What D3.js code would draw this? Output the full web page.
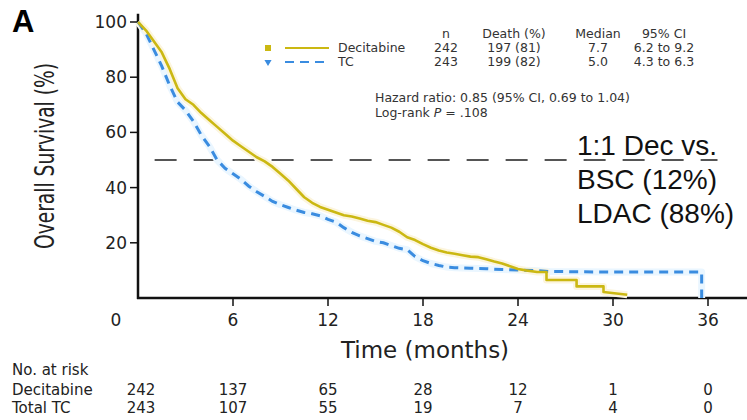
<!DOCTYPE html>
<meta charset="utf-8">
<head>
    <title>Overall survival, Decitabine vs TC</title>
    <script src="https://d3js.org/d3.v7.min.js"></script>
    <style>
        body { margin: 0; background: #fff; }
        svg { display: block; }
    </style>
</head>

<body>
    <div id="svg-container"></div>
</body>

<script>

const width = 747;
const height = 420;

// Kaplan-Meier curves (months, % alive)
const decMonths = [0, 0.5, 1, 1.5, 2, 2.5, 3, 3.5, 4, 4.5, 5, 5.5, 6, 6.5, 7, 7.5, 8, 8.5, 9, 9.5,
                   10, 10.5, 11, 11.5, 12, 12.5, 13, 13.5, 14, 14.5, 15, 15.5, 16, 16.5, 17, 17.5,
                   18, 18.5, 19, 19.5, 20, 20.5, 21, 21.5, 22, 22.5, 23, 23.5, 24, 24.5, 25.2, 25.8,
                   25.8, 27.7, 27.7, 29.4, 29.4, 30.9];
const decSurv   = [100, 97, 93, 89, 83, 76, 72, 70, 67, 64.5, 62, 59.5, 57, 55, 53, 51, 49.5, 47.5, 45, 42.5,
                   39.5, 36.5, 34.5, 33, 32, 31, 30, 29.5, 28.8, 28, 27.5, 26.5, 25.5, 24, 22, 21,
                   19.5, 18.2, 17.2, 16.5, 16, 15.5, 15, 14.8, 14, 13.2, 12.5, 11.5, 10.5, 10, 9.4, 9.4,
                   6.5, 6.5, 4.2, 4.2, 2.2, 1.2];

const tcMonths = [0, 0.5, 1, 1.5, 2, 2.5, 3, 3.5, 4, 4.5, 5, 5.5, 6, 6.5, 7, 7.5, 8, 8.5, 9, 9.5,
                  10, 10.5, 11, 11.5, 12, 12.5, 13, 13.5, 14, 14.5, 15, 15.5, 16, 16.5, 17, 17.5,
                  18, 18.5, 19, 19.5, 20, 21, 22, 23, 24, 25, 26, 28, 30, 35.6, 35.6];
const tcSurv   = [100, 96, 90, 84, 77, 71, 68, 64, 59, 55, 50, 47, 45, 43, 40.5, 38.5, 36.8, 35, 33.8, 32.8,
                  31.8, 31, 30.5, 29.8, 28.5, 27.5, 25.5, 23.8, 22.5, 21.5, 20.5, 20, 19, 18, 17.5, 15,
                  13.5, 12.5, 11.8, 11.2, 11, 10.8, 10.6, 10.3, 10.1, 10, 9.6, 9.5, 9.4, 9.4, 0];

const xTicks = [0, 6, 12, 18, 24, 30, 36];
const yTicks = [20, 40, 60, 80, 100];

const riskTimes = [0, 6, 12, 18, 24, 30, 36];
const riskDec = [242, 137, 65, 28, 12, 1, 0];
const riskTC  = [243, 107, 55, 19, 7, 4, 0];

const tableHeader = ["n", "Death (%)", "Median", "95% CI"];
const tableDec = ["242", "197 (81)", "7.7", "6.2 to 9.2"];
const tableTC  = ["243", "199 (82)", "5.0", "4.3 to 6.3"];

const noteLines = ["1:1 Dec vs.", "BSC (12%)", "LDAC (88%)"];

const yellow = "#cbb812";
const blue = "#3a8ce0";

const svg = d3.select("#svg-container")
              .append("svg")
                .attr("width", width)
                .attr("height", height);

const x = d3.scaleLinear().domain([0, 36]).range([138, 708]);
const y = d3.scaleLinear().domain([0, 100]).range([298, 22]);

drawAxes();
drawCurves();
drawLegend();
drawRiskTable();

function drawAxes() {
    // panel letter
    svg.append("text")
        .attr("x", 12).attr("y", 32)
        .style("font", "bold 31px 'Liberation Sans', Arial, sans-serif")
        .text("A");

    // y axis
    svg.append("line")
        .attr("x1", x(0)).attr("x2", x(0))
        .attr("y1", y(103)).attr("y2", y(0) + 1)
        .attr("stroke", "#111").attr("stroke-width", 2.5);

    const yg = svg.append("g").attr("class", "y-ticks");
    yg.selectAll("line")
        .data(yTicks).enter()
        .append("line")
            .attr("x1", x(0) - 8).attr("x2", x(0))
            .attr("y1", d => y(d)).attr("y2", d => y(d))
            .attr("stroke", "#111").attr("stroke-width", 1.5);
    yg.selectAll("text")
        .data(yTicks).enter()
        .append("text")
            .attr("x", x(0) - 11)
            .attr("y", d => y(d) + 6)
            .attr("text-anchor", "end")
            .style("font", "17px 'DejaVu Sans', sans-serif")
            .attr("fill", "#222")
            .text(d => d);

    // x axis
    svg.append("line")
        .attr("x1", x(0) - 1).attr("x2", width)
        .attr("y1", y(0)).attr("y2", y(0))
        .attr("stroke", "#111").attr("stroke-width", 2.5);

    const xg = svg.append("g").attr("class", "x-ticks");
    xg.selectAll("line")
        .data(xTicks.filter(d => d > 0)).enter()
        .append("line")
            .attr("x1", d => x(d)).attr("x2", d => x(d))
            .attr("y1", y(0)).attr("y2", y(0) + 8)
            .attr("stroke", "#111").attr("stroke-width", 1.5);
    xg.selectAll("text")
        .data(xTicks).enter()
        .append("text")
            .attr("x", d => d === 0 ? x(d) - 22 : x(d))
            .attr("y", y(0) + 28)
            .attr("text-anchor", "middle")
            .style("font", "17px 'DejaVu Sans', sans-serif")
            .attr("fill", "#222")
            .text(d => d);

    svg.append("text")
        .attr("x", 425).attr("y", 358)
        .attr("text-anchor", "middle")
        .style("font", "23px 'DejaVu Sans', sans-serif")
        .attr("fill", "#222")
        .text("Time (months)");

    // condensed look: squeeze the title to the length it has in the figure
    svg.append("text")
        .attr("transform", "translate(54,156) rotate(-90)")
        .attr("text-anchor", "middle")
        .attr("textLength", 186)
        .attr("lengthAdjust", "spacingAndGlyphs")
        .style("font", "27px 'DejaVu Sans Condensed', 'DejaVu Sans', sans-serif")
        .attr("fill", "#222")
        .text("Overall Survival (%)");

    // median reference line
    svg.append("line")
        .attr("x1", x(1.05)).attr("x2", x(36.6))
        .attr("y1", y(50)).attr("y2", y(50))
        .attr("stroke", "#555").attr("stroke-width", 2)
        .attr("stroke-dasharray", "22,17");
}

function drawCurves() {
    const line = d3.line()
                   .x(d => x(d[0]))
                   .y(d => y(d[1]));

    const dec = d3.zip(decMonths, decSurv);
    const tc = d3.zip(tcMonths, tcSurv);

    // soft halo from the scanned original
    svg.append("path").attr("d", line(tc))
        .attr("fill", "none").attr("stroke", "#eaf6ff").attr("stroke-width", 7)
        .attr("stroke-linejoin", "round");
    svg.append("path").attr("d", line(dec))
        .attr("fill", "none").attr("stroke", "#fcf5de").attr("stroke-width", 7)
        .attr("stroke-linejoin", "round");

    svg.append("path").attr("d", line(tc))
        .attr("fill", "none").attr("stroke", blue).attr("stroke-width", 3)
        .attr("stroke-dasharray", "9,6");
    svg.append("path").attr("d", line(dec))
        .attr("fill", "none").attr("stroke", yellow).attr("stroke-width", 2.6)
        .attr("stroke-linejoin", "round");
}

function drawLegend() {
    const rowY = [38, 52, 66];
    const colX = [446, 514, 598, 664];
    const font = "12.5px 'DejaVu Sans', sans-serif";

    const rows = [tableHeader, tableDec, tableTC];
    rows.forEach(function(row, i) {
        svg.append("g")
            .selectAll("text")
            .data(row).enter()
            .append("text")
                .attr("x", (d, j) => colX[j])
                .attr("y", rowY[i])
                .attr("text-anchor", "middle")
                .style("font", font)
                .attr("fill", "#333")
                .text(d => d);
    });

    [["Decitabine", yellow, null], ["TC", blue, "9,6"]].forEach(function(s, i) {
        const cy = rowY[i + 1] - 4;
        svg.append("line")
            .attr("x1", 285).attr("x2", 329)
            .attr("y1", cy).attr("y2", cy)
            .attr("stroke", s[1]).attr("stroke-width", 2)
            .attr("stroke-dasharray", s[2]);
        if (i === 0) {
            svg.append("rect")
                .attr("x", 265).attr("y", cy - 3)
                .attr("width", 6).attr("height", 6)
                .attr("fill", s[1]);
        } else {
            svg.append("path")
                .attr("d", d3.symbol().type(d3.symbolTriangle).size(22)())
                .attr("transform", `translate(268,${cy}) rotate(180)`)
                .attr("fill", s[1]);
        }
        svg.append("text")
            .attr("x", 338).attr("y", rowY[i + 1])
            .style("font", font)
            .attr("fill", "#333")
            .text(s[0]);
    });

    svg.append("text")
        .attr("x", 375).attr("y", 102)
        .style("font", "12.5px 'DejaVu Sans', sans-serif")
        .attr("fill", "#333")
        .text("Hazard ratio: 0.85 (95% CI, 0.69 to 1.04)");

    const lr = svg.append("text")
        .attr("x", 375).attr("y", 117)
        .style("font", "12.5px 'DejaVu Sans', sans-serif")
        .attr("fill", "#333");
    lr.append("tspan").text("Log-rank ");
    lr.append("tspan").style("font-style", "italic").text("P");
    lr.append("tspan").text(" = .108");

    svg.append("g")
        .selectAll("text")
        .data(noteLines).enter()
        .append("text")
            .attr("x", 577)
            .attr("y", (d, i) => 155 + i * 34)
            .style("font", "28px 'Liberation Sans', Arial, sans-serif")
            .attr("fill", "#111")
            .text(d => d);
}

function drawRiskTable() {
    const font = "15px 'DejaVu Sans', sans-serif";
    const labels = [["No. at risk", 375], ["Decitabine", 395], ["Total TC", 413]];
    labels.forEach(function(l) {
        svg.append("text")
            .attr("x", 12).attr("y", l[1])
            .style("font", font)
            .attr("fill", "#222")
            .text(l[0]);
    });

    [[riskDec, 395], [riskTC, 413]].forEach(function(r) {
        svg.append("g")
            .selectAll("text")
            .data(r[0]).enter()
            .append("text")
                .attr("x", (d, i) => x(riskTimes[i]) + (i === 0 ? 3 : 0))
                .attr("y", r[1])
                .attr("text-anchor", "middle")
                .style("font", font)
                .attr("fill", "#222")
                .text(d => d);
    });
}
</script>
